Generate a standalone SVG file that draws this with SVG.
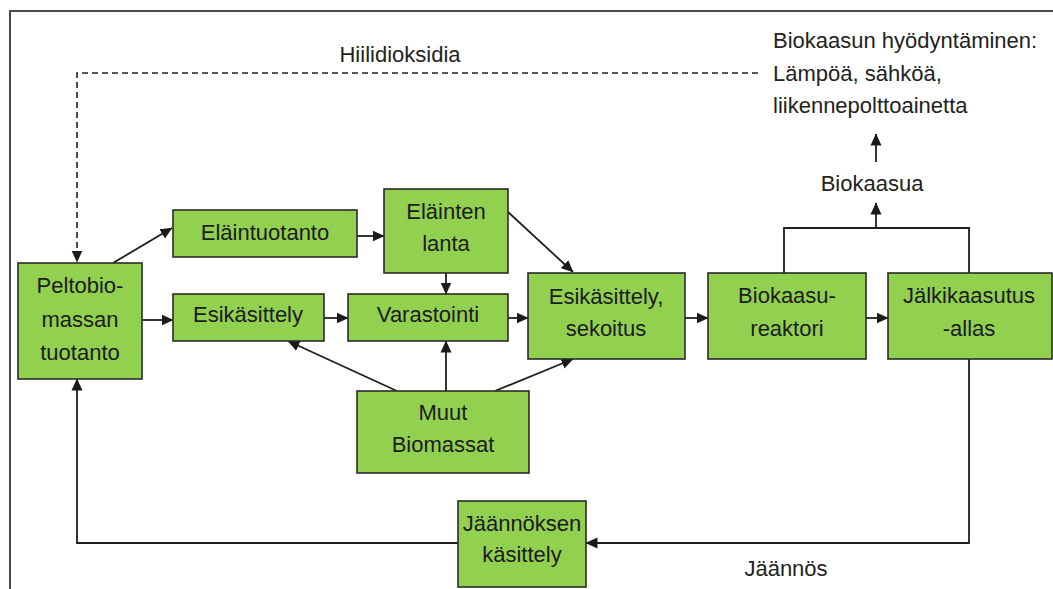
<svg xmlns="http://www.w3.org/2000/svg" width="1053" height="589" viewBox="0 0 1053 589">
  <defs>
    <marker id="arrow" markerUnits="userSpaceOnUse" markerWidth="12" markerHeight="12" viewBox="0 0 12 12" refX="11.5" refY="6" orient="auto">
      <path d="M0,0.5 L12,6 L0,11.5 z" fill="#1a1a1a"/>
    </marker>
    <style>
      .box { fill: #92d050; stroke: #2b2b2b; stroke-width: 1.6; }
      .t { font-family: "Liberation Sans", Arial, sans-serif; font-size: 22px; fill: #1c1c1c; text-anchor: middle; }
      .lbl { font-family: "Liberation Sans", Arial, sans-serif; font-size: 22px; fill: #222; }
      .ln { fill: none; stroke: #1f1f1f; stroke-width: 1.8; }
      .dash { fill: none; stroke: #1f1f1f; stroke-width: 1.6; stroke-dasharray: 6 4; }
      .frame { fill: none; stroke: #4a4a4a; stroke-width: 2; }
    </style>
  </defs>

  <rect width="1053" height="589" fill="#ffffff"/>
  <!-- outer frame (open at right and bottom) -->
  <path class="frame" d="M10,589 V11 H1053"/>

  <!-- connectors -->
  <g id="connectors">
    <path class="dash" d="M758,73 H77 V262" marker-end="url(#arrow)"/>
    <path class="ln" d="M113,263 L172,228" marker-end="url(#arrow)"/>
    <path class="ln" d="M142,320 L173,320" marker-end="url(#arrow)"/>
    <path class="ln" d="M357,236 L384,236" marker-end="url(#arrow)"/>
    <path class="ln" d="M446,273 L446,294" marker-end="url(#arrow)"/>
    <path class="ln" d="M508,212 L573,272" marker-end="url(#arrow)"/>
    <path class="ln" d="M324,318 L348,318" marker-end="url(#arrow)"/>
    <path class="ln" d="M508,318 L528,318" marker-end="url(#arrow)"/>
    <path class="ln" d="M685,318 L708,318" marker-end="url(#arrow)"/>
    <path class="ln" d="M866,318 L888,318" marker-end="url(#arrow)"/>
    <path class="ln" d="M397,391 L288,341" marker-end="url(#arrow)"/>
    <path class="ln" d="M446,391 L446,341" marker-end="url(#arrow)"/>
    <path class="ln" d="M495,391 L573,359" marker-end="url(#arrow)"/>
    <path class="ln" d="M784,273 V228 H969 V273"/>
    <path class="ln" d="M876,228 V203" marker-end="url(#arrow)"/>
    <path class="ln" d="M876,162 V134" marker-end="url(#arrow)"/>
    <path class="ln" d="M969,359 V543 H586" marker-end="url(#arrow)"/>
    <path class="ln" d="M458,543 H77 V379" marker-end="url(#arrow)"/>
  </g>

  <!-- free labels -->
  <text class="lbl" x="400" y="62" text-anchor="middle">Hiilidioksidia</text>
  <text class="lbl" x="773" y="48">Biokaasun hyödyntäminen:</text>
  <text class="lbl" x="773" y="81">Lämpöä, sähköä,</text>
  <text class="lbl" x="773" y="113">liikennepolttoainetta</text>
  <text class="lbl" x="872" y="191" text-anchor="middle">Biokaasua</text>
  <text class="lbl" x="786" y="576" text-anchor="middle">Jäännös</text>

  <!-- nodes -->
  <g id="peltobiomassa">
    <rect class="box" x="18" y="263" width="124" height="116"/>
    <text class="t" x="80" y="293">Peltobio-</text>
    <text class="t" x="80" y="327">massan</text>
    <text class="t" x="80" y="360">tuotanto</text>
  </g>
  <g id="elaintuotanto">
    <rect class="box" x="173" y="210" width="184" height="47"/>
    <text class="t" x="265" y="240">Eläintuotanto</text>
  </g>
  <g id="elainten-lanta">
    <rect class="box" x="384" y="189" width="124" height="84"/>
    <text class="t" x="446" y="219">Eläinten</text>
    <text class="t" x="446" y="251">lanta</text>
  </g>
  <g id="esikasittely">
    <rect class="box" x="173" y="294" width="151" height="47"/>
    <text class="t" x="248" y="322">Esikäsittely</text>
  </g>
  <g id="varastointi">
    <rect class="box" x="348" y="294" width="160" height="47"/>
    <text class="t" x="428" y="322">Varastointi</text>
  </g>
  <g id="sekoitus">
    <rect class="box" x="528" y="273" width="157" height="86"/>
    <text class="t" x="606" y="304">Esikäsittely,</text>
    <text class="t" x="606" y="336">sekoitus</text>
  </g>
  <g id="reaktori">
    <rect class="box" x="708" y="273" width="158" height="86"/>
    <text class="t" x="787" y="303">Biokaasu-</text>
    <text class="t" x="787" y="336">reaktori</text>
  </g>
  <g id="jalkikaasutus">
    <rect class="box" x="888" y="273" width="164" height="86"/>
    <text class="t" x="969" y="303">Jälkikaasutus</text>
    <text class="t" x="969" y="336">-allas</text>
  </g>
  <g id="muut-biomassat">
    <rect class="box" x="357" y="391" width="172" height="82"/>
    <text class="t" x="443" y="420">Muut</text>
    <text class="t" x="443" y="452">Biomassat</text>
  </g>
  <g id="jaannoksen-kasittely">
    <rect class="box" x="458" y="501" width="128" height="86"/>
    <text class="t" x="522" y="531">Jäännöksen</text>
    <text class="t" x="522" y="562">käsittely</text>
  </g>
</svg>
